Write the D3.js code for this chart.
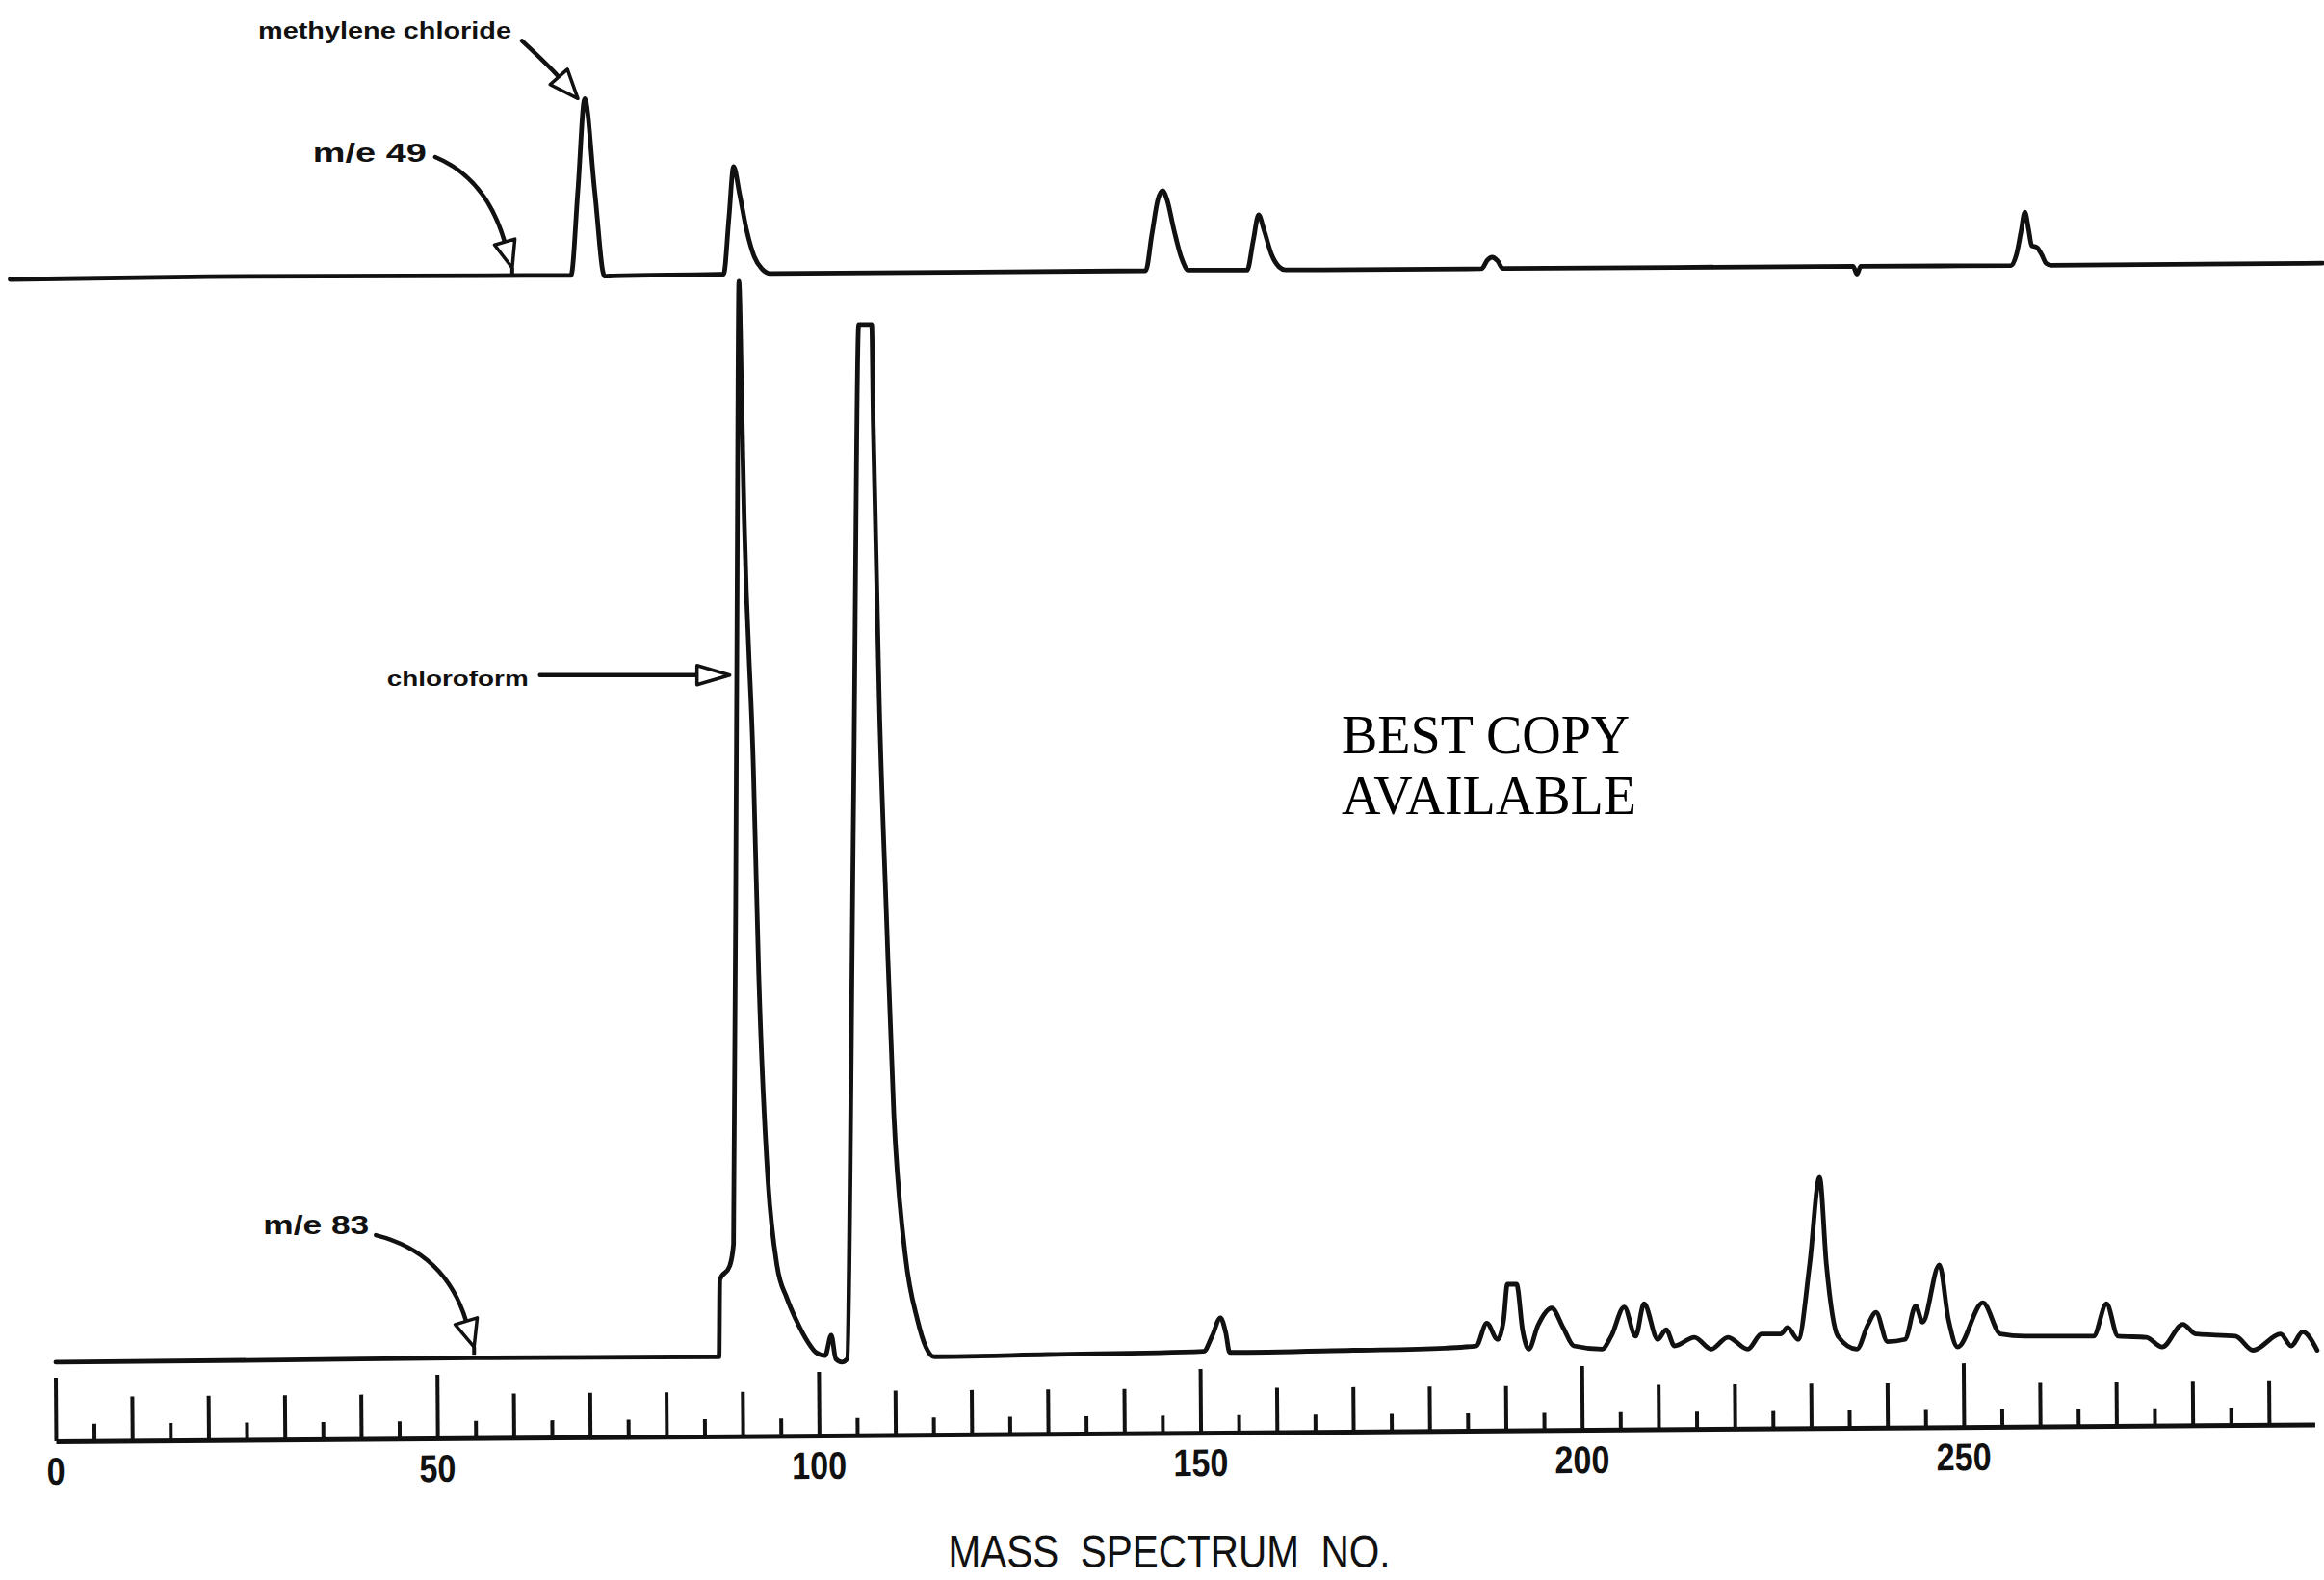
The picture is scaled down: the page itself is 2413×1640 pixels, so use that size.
<!DOCTYPE html>
<html><head><meta charset="utf-8">
<script src="https://cdn.jsdelivr.net/npm/d3@7"></script>
<style>html,body{margin:0;padding:0;background:#fff;} svg{display:block;}</style>
</head><body>
<svg id="chart" width="2413" height="1640"></svg>
<script>
// ---------------- DATA ----------------
// x axis: mass spectrum number
const majorTicks = [0, 50, 100, 150, 200, 250];
const tickLabels = ["0", "50", "100", "150", "200", "250"];
const midTicks = [10,20,30,40,60,70,80,90,110,120,130,140,160,170,180,190,210,220,230,240,260,270,280,290];
const minorTicks = [5,15,25,35,45,55,65,75,85,95,105,115,125,135,145,155,165,175,185,195,205,215,225,235,245,255,265,275,285];

// upper trace, m/e 49 : [spectrum no., relative intensity]
const trace49 = [
 [-6,0],[20,1.6],[62,2.2],[67.5,2.2],[68.4,50],[69.3,102],[70.6,50],[71.9,1.8],[73,2.0],
 [87.5,3.0],[88.2,35],[88.8,63.6],[89.6,48],[90.5,28],[91.5,13],[92.5,6],[93.6,3.3],
 [142.8,4.9],[143.6,25],[144.4,45],[145.0,50],[145.6,45],[146.5,28],[147.5,12],[148.4,5.2],
 [156.1,5.2],[156.9,22],[157.6,36.4],[158.3,28],[159.3,14],[160.3,7],[161.1,5.4],
 [186.8,6.0],[187.6,11],[188.2,12.5],[188.9,10.5],[189.6,6.2],
 [235.5,7.4],[236.0,3.0],[236.5,7.4],
 [256.2,7.8],[256.9,14],[257.5,27],[258.0,38],[258.5,28],[258.9,19],[259.6,18],[260.2,14],[260.8,9],[261.4,8.0],
 [297,9.2]
];

// lower trace, m/e 83 : [spectrum no., relative intensity]
const trace83 = [
 [0,0.1],[30,0.3],[54.8,0.5],[86.9,0.6],[87.0,7.7],[88.3,9],[88.8,11],[89.2,60],[89.5,100],[89.9,88],[90.2,78],
 [91.4,55],[92.1,36],[93.3,17],[94.5,9],[95.8,6],[97.0,4],[98.5,2],[99.6,1],[100.8,0.7],[101.6,2.6],[102.2,0.4],
 [103.0,0.1],[103.7,0.4],[104.5,50],[105.2,96],[106.9,96],[107.1,87],[107.9,61],[108.8,42],[109.8,23],[111.3,10],
 [112.9,4],[114,1.5],[115.1,0.6],
 [130,0.8],[150.4,1.1],[151.5,2.5],[152.6,4.2],[153.3,2.8],[153.8,1.0],[170,1.2],[182,1.4],[186.1,1.6],[187.5,3.7],
 [188.9,2.2],[189.7,4],[190.2,7.3],[191.4,7.3],[192.2,3],[193.0,1.3],[194.2,3.5],[196.0,5.1],[197.5,3.3],[198.9,1.6],
 [202.6,1.3],[203.8,2.5],[205.5,5.2],[207.0,2.5],[208.1,5.5],[209.9,2.2],[211.0,3.1],[212.1,1.6],[214.7,2.4],
 [216.9,1.3],[219.1,2.4],[221.7,1.3],[223.5,2.7],[226.0,2.7],[226.9,3.3],[228.3,2.2],[229.8,9.1],[231.1,17.2],
 [232.0,9.1],[233.5,2.5],[236.0,1.3],[237.4,3.5],[238.5,4.7],[240.0,2.0],[242.3,2.2],[243.7,5.3],[244.6,3.8],
 [246.8,9.1],[248,4],[249.2,1.5],[252.5,5.6],[254.8,2.7],[258,2.5],[267,2.5],[268.7,5.5],[270.2,2.5],[273.9,2.4],
 [276.0,1.5],[278.7,3.6],[280.4,2.7],[285.6,2.5],[287.9,1.2],[291.5,2.7],[292.9,1.6],[294.4,2.9],[296.3,1.2]
];

// annotations: arrow tip on the traces (spectrum no., intensity)
const annotations = [
 {label:"methylene chloride", panel:"top", scan:68.4, value:102, lx:-69, ly:-62, size:24, width:263,
  sx:-58, sy:-60, cx:-30, cy:-34, head:30, half:12, stem:0},
 {label:"m/e 49", panel:"top", scan:59.8, value:6.5, lx:-89, ly:-110, size:27, width:118,
  sx:-80, sy:-115, cx:-27, cy:-93, head:28, half:11, stem:10},
 {label:"chloroform", panel:"bottom", scan:88.3, value:63.6, lx:-209, ly:11, size:22, width:147,
  sx:-197, sy:0, cx:-100, cy:0, head:34, half:10, stem:0},
 {label:"m/e 83", panel:"bottom", scan:54.8, value:1.5, lx:-109, ly:-117, size:28, width:110,
  sx:-102, sy:-116, cx:-30, cy:-98, head:28, half:12, stem:8}
];

const axisTitle = "MASS  SPECTRUM  NO.";
const stamp = ["BEST COPY", "AVAILABLE"];

// ---------------- DRAWING ----------------
const ink = "#111";
const svg = d3.select("#chart");
svg.append("rect").attr("width",2413).attr("height",1640).attr("fill","#fff");

const x = d3.scaleLinear().domain([0, 296]).range([58, 58 + 296*7.924]);
const yTop = d3.scaleLinear().domain([0, 100]).range([290, 106]);
const yBot = d3.scaleLinear().domain([0, 100]).range([1415, 292]);

const line = (ys) => d3.line().x(d => x(d[0])).y(d => ys(d[1])).curve(d3.curveMonotoneX);

svg.append("path").datum(trace49).attr("d", line(yTop))
  .attr("fill","none").attr("stroke",ink).attr("stroke-width",4.8)
  .attr("stroke-linejoin","round").attr("stroke-linecap","round");
svg.append("path").datum(trace83).attr("d", line(yBot))
  .attr("fill","none").attr("stroke",ink).attr("stroke-width",4.8)
  .attr("stroke-linejoin","round").attr("stroke-linecap","round");

// axis (slightly tilted as in the scan)
const ax = svg.append("g").attr("transform","translate(0,1496) rotate(-0.43,58,0)");
function tickAxis(vals, size, domain) {
  const a = d3.axisTop(x).tickValues(vals).tickSize(size).tickSizeOuter(0).tickFormat("");
  const g = ax.append("g").call(a);
  g.selectAll(".tick line").attr("stroke",ink).attr("stroke-width",4);
  if (domain) g.select(".domain").attr("stroke",ink).attr("stroke-width",5);
  else g.select(".domain").remove();
}
tickAxis(majorTicks, 66, true);
tickAxis(midTicks, 46, false);
tickAxis(minorTicks, 18, false);
ax.selectAll("text.tl").data(majorTicks).join("text").attr("class","tl")
  .attr("x", d => x(d)).attr("y", 45)
  .attr("text-anchor","middle")
  .attr("font-family","Liberation Sans, Arial, sans-serif").attr("font-size",40).attr("font-weight","bold")
  .attr("textLength", (d,i) => tickLabels[i].length*19).attr("lengthAdjust","spacingAndGlyphs")
  .attr("fill",ink)
  .text((d,i) => tickLabels[i]);

svg.append("text").attr("x",1214).attr("y",1627).attr("text-anchor","middle")
  .attr("font-family","Liberation Sans, Arial, sans-serif").attr("font-size",48)
  .attr("textLength",459).attr("lengthAdjust","spacingAndGlyphs")
  .attr("fill",ink).style("white-space","pre")
  .text(axisTitle);

// annotations
const an = svg.append("g");
annotations.forEach(a => {
  const ys = a.panel === "top" ? yTop : yBot;
  const tip = [x(a.scan), ys(a.value)];
  const p0 = [tip[0]+a.sx, tip[1]+a.sy];
  const c = [tip[0]+a.cx, tip[1]+a.cy];
  const dx = tip[0]-c[0], dy = tip[1]-c[1], L = Math.hypot(dx,dy);
  const ux = dx/L, uy = dy/L;
  const base = [tip[0]-ux*a.head, tip[1]-uy*a.head];
  const px = -uy, py = ux;
  an.append("path").attr("d", `M${p0[0]},${p0[1]}Q${c[0]},${c[1]} ${base[0]},${base[1]}`)
    .attr("fill","none").attr("stroke",ink).attr("stroke-width",4.5).attr("stroke-linecap","round");
  an.append("path")
    .attr("d", `M${tip[0]},${tip[1]}L${base[0]+px*a.half},${base[1]+py*a.half}L${base[0]-px*a.half},${base[1]-py*a.half}Z`)
    .attr("fill","#fff").attr("stroke",ink).attr("stroke-width",3.5).attr("stroke-linejoin","round");
  if (a.stem) an.append("line").attr("x1",tip[0]).attr("x2",tip[0]).attr("y1",tip[1]).attr("y2",tip[1]+a.stem)
    .attr("stroke",ink).attr("stroke-width",4);
  an.append("text").attr("x", tip[0]+a.lx).attr("y", tip[1]+a.ly).attr("text-anchor","end")
    .attr("font-family","Liberation Sans, Arial, sans-serif").attr("font-weight","bold")
    .attr("font-size", a.size).attr("textLength", a.width).attr("lengthAdjust","spacingAndGlyphs")
    .attr("fill",ink).text(a.label);
});

// stamp text
svg.append("g").selectAll("text").data(stamp).join("text")
  .attr("x",1393).attr("y",(d,i) => 782 + i*63)
  .attr("font-family","Liberation Serif, Times New Roman, serif").attr("font-size",56)
  .attr("fill","#000").text(d => d);
</script>
</body></html>
